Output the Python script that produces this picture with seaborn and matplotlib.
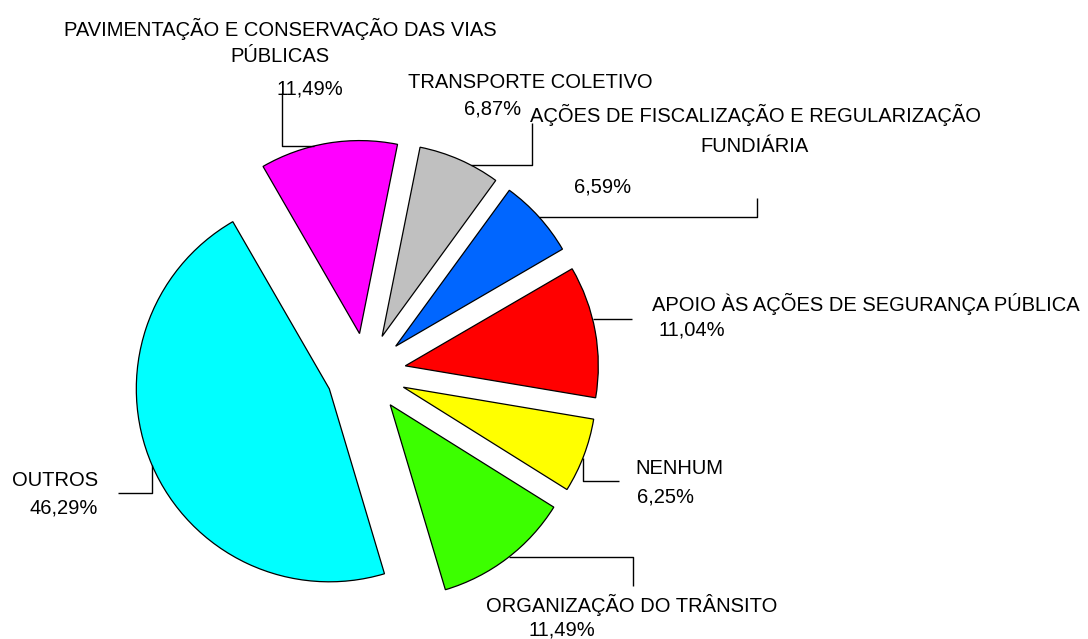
import numpy as np
import matplotlib
matplotlib.use("Agg")
import matplotlib.pyplot as plt
import seaborn as sns

# data, clockwise from the top-left slice
categories = [
    "PAVIMENTAÇÃO E CONSERVAÇÃO DAS VIAS\nPÚBLICAS",
    "TRANSPORTE COLETIVO",
    "AÇÕES DE FISCALIZAÇÃO E REGULARIZAÇÃO\nFUNDIÁRIA",
    "APOIO ÀS AÇÕES DE SEGURANÇA PÚBLICA",
    "NENHUM",
    "ORGANIZAÇÃO DO TRÂNSITO",
    "OUTROS",
]
shares = [11.49, 6.87, 6.59, 11.04, 6.25, 11.49, 46.29]
slice_colors = ["#FF00FF", "#C0C0C0", "#0066FF", "#FF0000", "#FFFF00", "#3CFF00", "#00FFFF"]

sns.set_theme(style="white")
plt.rcParams["font.family"] = ["Liberation Sans", "DejaVu Sans"]

W, H = 1088, 639
fig = plt.figure(figsize=(W / 100, H / 100), dpi=100)
ax = fig.add_axes([0, 0, 1, 1])

# pixel-like coordinates, y pointing down
radius = 193
wedges, _ = ax.pie(
    shares,
    colors=slice_colors,
    explode=[0.207 * radius] * len(shares),  # pie offsets in data units
    startangle=-120,
    counterclock=True,
    center=(366, 373),
    radius=radius,
    wedgeprops=dict(edgecolor="black", linewidth=0.9),
)
ax.set_xlim(0, W)
ax.set_ylim(H, 0)
ax.set_aspect("equal")
ax.axis("off")


def arc_point(w, ref, x=None, y=None):
    cx, cy = w.center
    r = w.r
    if y is not None:
        s = np.degrees(np.arcsin(np.clip((y - cy) / r, -1, 1)))
        cands = [s, 180 - s]
    else:
        c = np.degrees(np.arccos(np.clip((x - cx) / r, -1, 1)))
        cands = [c, -c]
    span = w.theta2 - w.theta1
    inside = [t for t in cands if (t - w.theta1) % 360 <= span] or cands
    pts = [(cx + r * np.cos(np.radians(t)), cy + r * np.sin(np.radians(t))) for t in inside]
    return min(pts, key=lambda p: (p[0] - ref[0]) ** 2 + (p[1] - ref[1]) ** 2)


# label layout: name line positions, percent position, alignment
name_pos = [(280, [27, 55]), (530, [81]), (755, [113, 145]), (652, [302]),
            (635, [467]), (632, [603]), (98, [478])]
pct_pos = [(310, 87), (493, 107), (603, 185), (658, 328), (637, 495), (562, 628), (98, 506)]
aligns = ["center", "center", "center", "left", "left", "center", "right"]
leaders = [((282, 93), (282, 146), "h"), ((532, 123), (532, 165), "h"),
           ((757, 198), (757, 217), "h"), ((632, 319), (632, 319), "h"),
           ((619, 481), (583, 481), "v"), ((633, 586), (633, 557), "h"),
           ((118, 493), (152, 493), "v")]

fs = 14.5
for w, name, val, (nx, nys), (px, py), ha, (start, elbow, mode) in zip(
        wedges, categories, shares, name_pos, pct_pos, aligns, leaders):
    for line, ny in zip(name.split("\n"), nys):
        ax.text(nx, ny + 2, line, ha=ha, va="center", fontsize=fs, color="black")
    ax.text(px, py + 2, f"{val:.2f}%".replace(".", ","), ha=ha, va="center",
            fontsize=fs, color="black")
    if mode == "h":
        end = arc_point(w, elbow, y=elbow[1])
    else:
        end = arc_point(w, elbow, x=elbow[0])
    xs = [start[0], elbow[0], end[0]]
    ys = [start[1], elbow[1], end[1]]
    ax.plot(xs, ys, color="black", linewidth=1.0, solid_capstyle="butt")

fig.savefig("out.png", dpi=100, facecolor="white")
